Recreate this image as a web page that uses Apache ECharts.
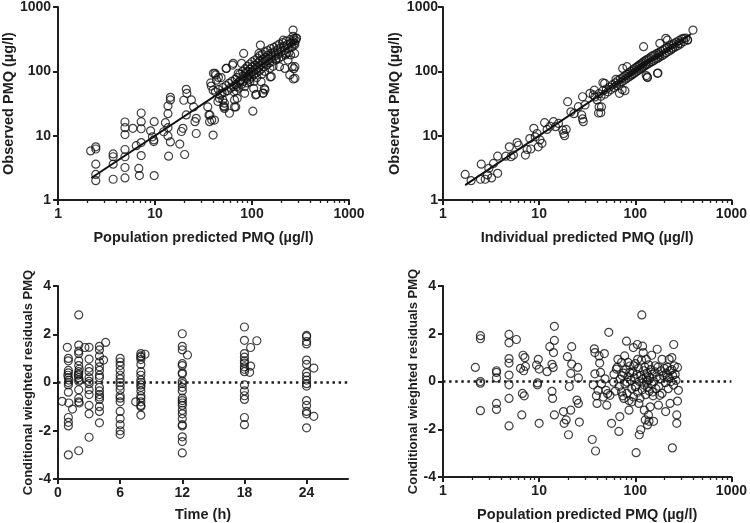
<!DOCTYPE html>
<html>
<head>
<meta charset="utf-8">
<script src="https://cdn.jsdelivr.net/npm/echarts@6/dist/echarts.min.js"></script>
<style>
html,body{margin:0;padding:0;background:#fff;}
#chart{width:750px;height:523px;}
</style>
</head>
<body>
<div id="chart"></div>
<script>
// ---------- Panel A: observed vs population predicted ----------
var popPredObs = [
[2.17,5.8],[2.45,6.7],[2.45,6.2],[2.45,3.6],[2.45,2.5],[2.45,2.0],[3.7,5.2],[3.7,4.7],[3.7,3.6],[3.7,2.1],
[4.9,16.3],[4.9,13.3],[4.9,10.4],[4.9,6.1],[4.9,4.7],[4.9,3.2],[4.9,2.2],[5.9,13],[6.4,7],[6.8,3.1],[6.9,2.4],
[7.2,7.8],[7.2,22.5],[7.2,16.5],[7.2,12.8],[7.2,4.9],[9,11.9],[9.4,9.6],[9.8,16.5],[9.7,8.6],[9.7,8.1],[9.8,2.4],
[12.3,11.5],[12.8,15.9],[13.6,29],[13.6,22],[13.6,13.3],[13.6,9.9],[13.8,4.8],[14.4,35.9],[14.4,39.5],[14.4,8],
[18,7.4],[18.7,11.6],[19.4,13],[19.8,35.5],[20.2,5.1],[21,52.5],[21.3,45.5],[21,21],[23.7,35.9],[25,28],[25.8,16.5],
[26.6,18.6],[26.6,10.8],[35,28],[36,21],[36.5,16.5],[37.5,66],[38,59],[39.7,51],[39.7,10.2],[41,17.5],[41.5,93],
[43,73],[44.5,34],[46,38],[48,80],[49,45.5],[50,36],[51,29],[52,26.5],[54.5,111],[58.5,22.3],[63,125],[66,28],[66,36],
[69,49.5],[70,58],[72,93],[75,69],[78,133],[82,190],[84,45.5],[87,98],[90,82],[95,69],[102,24],[104,54],[109,43],
[118,190],[122,256],[124,69],[129,45.5],[134,54],[154,82],[178,159],[192,118],[210,305],[225,190],[235,150],[245,88],
[250,180],[260,118],[265,438],[265,350],[267,76],[270,110],[273,272],[275,190],[285,326],
[38.4,17.5],[36.8,21],[54,111],[64,133],[42.3,88],[45,80],[40,93],[70.4,38],[68,28],[51.5,28],[52,32],[111,44],[131,46],[136,51.5],[158,83],[218,111],[277,118],[277,78],
[42,48],[45,52],[47,43],[50,56],[52,47],[54,60],[56,50],[58,65],[60,55],[62,70],[64,58],[65,48],[67,75],[68,62],[70,80],
[72,66],[73,55],[75,90],[76,72],[78,63],[80,100],[81,85],[82,70],[84,58],[85,110],[86,92],[88,78],[89,66],[90,120],
[91,100],[92,88],[94,75],[95,130],[96,108],[98,95],[99,82],[100,140],[101,118],[103,100],[104,88],[105,70],[107,150],
[108,125],[110,108],[111,95],[112,80],[114,160],[115,135],[117,115],[118,100],[120,175],[121,145],[123,125],[124,108],
[126,90],[128,185],[130,155],[131,135],[133,118],[135,100],[137,200],[139,165],[140,145],[142,125],[145,210],[147,178],
[149,155],[151,135],[153,112],[156,225],[158,190],[160,165],[162,142],[165,120],[168,235],[170,200],[173,175],[176,150],
[180,250],[183,215],[186,185],[189,160],[192,265],[195,230],[199,200],[203,170],[207,280],[211,245],[215,210],[220,180],
[225,295],[230,260],[235,225],[240,195],[246,310],[252,275],[258,240],[264,290],[270,320],[276,260],[282,300],[288,330]
];
var lineA = [[2.2,2.2],[290,290]];

// ---------- Panel B: observed vs individual predicted ----------
var indPredObs = [
[1.7,2.5],[1.96,2.0],[2.45,2.1],[2.5,3.6],[2.75,2.1],[2.9,2.45],[3.0,3.1],[3.2,2.2],[3.35,3.7],[3.7,2.6],[3.7,4.8],
[4.5,4.8],[4.9,6.7],[5.1,4.7],[5.4,5],[5.9,7.8],[6.1,7.1],[7.2,5],[7.5,6.1],[8,9],[8.2,6.2],[8.8,13],[9.1,9.6],
[9.5,10.8],[9.8,6.7],[10.2,8.6],[10.7,7.6],[11.4,15.9],[12.1,12.5],[13,14],[14.1,16.5],[14.8,13.8],[15.9,15.5],
[17.6,12.2],[18,10.8],[18.4,10],[19.1,12.5],[19.8,33.7],[21.4,23.5],[23,22],[25.6,28.2],[27.7,21],[28.3,18.2],
[28.8,16.5],[28.3,40.3],[30,30],[33.8,45.5],[36.6,43],[37.5,51],[44.5,28],[43.8,22.7],[46,66.5],[48,65],[63,75],
[68.5,45.5],[73,52],[74,111],[78,50],[82,118],[122,242],[130,86],[134,80],[170,93],[176,180],[180,272],[208,326],
[216,305],[243,228],[285,272],[320,326],[350,305],[398,438],[41.5,22.5],[42,28],[172,94],[133,82],
[38,40],[40,36],[42,45],[44,41],[46,50],[48,44],[50,53],[52,48],[54,57],[56,52],[58,62],[60,56],[62,66],[64,60],
[66,72],[68,63],[70,76],[72,68],[74,80],[76,72],[78,85],[80,76],[82,90],[84,80],[86,95],[88,84],[90,100],[92,88],
[94,105],[96,92],[98,110],[100,96],[102,115],[104,100],[106,120],[108,104],[110,125],[112,108],[114,130],[116,112],
[118,135],[120,116],[122,140],[124,120],[126,145],[128,124],[130,150],[132,128],[135,155],[138,132],[141,160],
[144,138],[147,170],[150,142],[153,175],[156,148],[160,180],[164,155],[168,190],[172,160],[176,195],[180,168],
[185,205],[190,175],[195,215],[200,185],[205,225],[210,195],[216,235],[222,205],[228,250],[234,215],[240,260],
[246,228],[252,270],[260,240],[268,285],[276,250],[285,300],[295,265],[305,320],[320,290],[335,330],[350,310]
];
var lineB = [[1.7,1.7],[380,380]];

// ---------- Panel C: CWRES vs time ----------
var timeCwres = [
[0.4,-0.78],
[0.9,1.46],[1,1.0],[1,0.9],[1,0.5],[1,0.4],[0.95,0.3],[1,0.2],[1.05,0.1],[1,0],[1,-0.1],[1,-0.4],[1.05,-0.85],
[1,-1.45],[1,-1.65],[1,-1.8],[1,-3.0],[1.4,-1.1],
[2,2.8],[2,1.55],[2,1.3],[2,1.2],[2,0.9],[2,0.7],[2.05,0.55],[2,0.45],[2,0.35],[1.95,0.3],[2,0.2],[2.05,0.1],
[2,0.05],[2,-0.3],[2,-0.65],[2,-0.8],[2.05,-0.85],[2,-2.83],[2.6,1.45],
[3,1.46],[3,0.97],[3,0.6],[3,0.45],[3,0.2],[3,0.05],[3,-0.05],[3,-0.3],[3,-0.5],[3,-0.95],[3,-1.3],[3,-2.27],
[4,1.5],[4,1.35],[4,1.1],[4,0.85],[4,0.65],[4,0.5],[4,0.3],[4,0.2],[4,-0.2],[4,-0.35],[4,-0.5],[4,-0.6],[4,-0.7],
[4,-1.0],[4,-1.2],[4,-1.67],[4.4,0.93],[4.6,1.66],
[6,1.0],[6,0.85],[6,0.7],[6,0.5],[6,0.3],[6,0.15],[6,0],[6,-0.15],[6,-0.3],[6,-0.55],[6,-0.65],[6,-0.8],[6,-1.2],
[6,-1.5],[6,-1.75],[6,-2.0],[6,-2.15],[7.5,-0.8],
[8,1.2],[8,1.1],[8,1.05],[8,0.95],[8,0.75],[8,0.45],[8,0.3],[8,0.1],[8,0],[8,-0.1],[8,-0.2],[8,-0.35],[8,-0.55],
[8,-0.65],[8,-0.8],[8,-0.95],[8,-1.0],[8,-1.35],[8.4,1.17],
[12,2.02],[12,1.5],[12,1.35],[12,0.78],[12,0.7],[12,0.4],[12,0.35],[12,0.05],[12,-0.05],[12,-0.2],[12,-0.35],
[12,-0.65],[12,-0.75],[12,-0.85],[12,-0.95],[12,-1.15],[12,-1.3],[12,-1.5],[12,-1.75],[12,-1.8],[12,-2.25],
[12,-2.45],[12,-2.92],[12.5,1.14],
[18,2.3],[18,1.75],[18,1.2],[18,1.05],[18,0.9],[18,0.8],[18,0.65],[18,0.55],[18,0.45],[18,-0.1],[18,-0.35],
[18,-0.55],[18,-0.7],[18,-1.45],[18,-1.75],[18.6,1.45],[18.6,0.68],[18.5,0.42],[19.2,1.73],
[24,1.95],[24,1.9],[24,1.7],[24,1.6],[24,0.93],[24,0.75],[24,0.4],[24,0.25],[24,0.1],[24,-0.05],[24,-0.15],
[24,-0.75],[24,-0.95],[24,-1.2],[24,-1.3],[24,-1.88],[24.7,0.6],[24.7,-1.4]
];

// ---------- Panel D: CWRES vs population predicted ----------
var popPredCwres = [
[2.17,0.59],[2.45,1.92],[2.45,1.79],[2.45,0],[2.45,-0.07],[2.45,-1.22],[3.6,0.45],[3.6,0.38],[3.6,0.15],[3.6,-0.92],
[3.6,-1.17],[4.86,1.97],[4.86,1.62],[4.86,0.96],[4.86,0.77],[4.86,0.27],[4.86,-0.14],[4.86,-0.71],[4.86,-1.86],
[5.8,1.76],[6.4,0.55],[6.6,-1.4],[6.7,-0.5],[7,-0.6],[6.8,1.1],[7.1,1.0],[6.9,0.45],[7.2,0.63],[9.4,0.69],[9.8,0.93],
[10,0.52],[9.6,-0.06],[9.6,-0.14],[10,-1.75],[12.1,0.41],[12.9,1.46],[13.6,0.72],[14,0.59],[13.6,-0.41],[13.8,-0.71],
[14.1,1.21],[14.4,2.31],[14.4,1.72],[14.4,-1.4],[17.9,-1.26],[18.2,-1.75],[19.1,-1.61],[19.7,1.04],[20.2,-2.23],
[20.6,-0.21],[21.3,0.34],[21.3,-1.2],[21.8,1.46],[21.8,0.73],[24.7,-0.78],[25.2,0.59],[25.6,-0.92],[25.6,0.15],
[26.2,-1.7],[35.7,-2.43],[36.5,-0.14],[37.5,1.37],[38,1.21],[38,0.32],[38.6,-2.91],[39.4,-0.6],[40,-0.92],[41,-0.37],
[42,1.07],[42.6,0.77],[43.5,0.38],[44.5,-0.1],[46.5,-0.65],[47.7,1.17],[48.5,0.11],[49.6,-0.37],[50.5,-0.99],
[51.5,-0.51],[53,2.06],[54.5,-0.58],[56.6,-1.75],[59.5,-0.03],[63.5,0.52],[66,0.93],[67.5,-2.09],[69,-1.47],
[72,-0.44],[73,0.25],[76,-0.71],[77.5,1.07],[81,1.69],[82,-0.03],[84,0.8],[86,-1.2],[87.5,0.38],[92,-0.85],
[95.5,1.42],[96.5,0.66],[100,-0.23],[102,-2.98],[105,1.55],[106,0.93],[109,-0.92],[110,-2.23],[114,-2.02],
[117,2.79],[119,1.48],[121,1.21],[124,-1.2],[127,-1.61],[130,0.93],[131,-0.03],[134,-1.82],[137,-1.4],[139,-1.67],
[143,-1.06],[148,1.1],[151,-0.44],[155,-1.67],[161,0.66],[169,1.35],[174,-0.99],[180,-0.58],[190,0.93],[207,-1.26],
[215,0.18],[225,0.93],[230,-0.92],[240,1.0],[243,-2.78],[251,1.55],[270,-1.75],[270,-1.4],[275,-0.82],[275,0.59],
[281,-0.37],
[60,0.3],[62,-0.4],[65,0.6],[68,-0.2],[70,0.1],[72,0.8],[74,-0.6],[76,0.35],[78,-0.1],[80,0.5],[82,-0.5],[84,0.2],
[86,-0.8],[88,0.65],[90,0.05],[92,-0.3],[94,0.4],[96,-0.65],[98,0.15],[100,0.75],[102,-0.2],[104,0.3],[106,-0.45],
[108,0.55],[110,0.0],[112,-0.7],[114,0.25],[116,0.9],[118,-0.35],[120,0.1],[122,0.45],[124,-0.15],[126,0.6],
[128,-0.55],[130,0.2],[132,0.35],[134,-0.25],[136,0.05],[138,0.7],[140,-0.4],[142,0.15],[145,0.5],[148,-0.1],
[150,0.3],[153,-0.6],[156,0.0],[160,0.4],[164,-0.3],[168,0.2],[172,0.6],[176,-0.2],[180,0.1],[185,0.45],[190,-0.5],
[195,0.25],[200,0.55],[205,-0.05],[210,0.35],[215,0.6],[220,-0.3],[225,0.15],[230,0.45],[235,0.0],[240,0.5],
[245,0.25],[250,-0.15],[255,0.65],[260,0.3],[265,0.05]
];

// ---------- Ticks ----------
var timeTicks = [0, 6, 12, 18, 24];
var cwresTicks = [-4, -2, 0, 2, 4];

var FONT = '"Liberation Sans", Arial, Helvetica, sans-serif';
var INK = '#1e1e1e';

var chart = echarts.init(document.getElementById('chart'), null, {renderer: 'canvas'});

function mainAxisBase(extra) {
  var a = {
    axisLine: {show: true, onZero: false, lineStyle: {color: INK, width: 2}},
    axisTick: {show: true, inside: false, length: 5, lineStyle: {color: INK, width: 2}},
    axisLabel: {color: INK, fontFamily: FONT, fontWeight: 'bold', fontSize: 14, margin: 7},
    splitLine: {show: false},
    minorTick: {show: false},
    minorSplitLine: {show: false},
    nameTextStyle: {color: INK, fontFamily: FONT, fontWeight: 'bold', fontSize: 14.5},
    nameLocation: 'middle'
  };
  for (var k in extra) a[k] = extra[k];
  return a;
}
function plainNum(v) { return String(Math.round(v)); }
function logX(grid, name) {
  var a = mainAxisBase({type: 'log', logBase: 10, min: 1, max: 1000, gridIndex: grid, position: 'bottom',
    name: name, nameGap: 30});
  a.axisLabel.formatter = plainNum;
  a.minorTick = {show: true, splitNumber: 9, length: 3, lineStyle: {color: INK, width: 1.3}};
  return a;
}
function logY(grid, name, gap, margin) {
  var a = mainAxisBase({type: 'log', logBase: 10, min: 1, max: 1000, gridIndex: grid,
    name: name, nameGap: gap});
  a.axisLabel.formatter = plainNum;
  a.axisLabel.margin = margin;
  return a;
}
function resY(grid, gap) {
  var a = mainAxisBase({type: 'value', min: -4, max: 4, interval: 2, gridIndex: grid,
    name: 'Conditional wieghted residuals PMQ', nameGap: gap});
  a.nameTextStyle = {color: INK, fontFamily: FONT, fontWeight: 'bold', fontSize: 13};
  a.axisLabel.customValues = cwresTicks;
  a.axisTick.customValues = cwresTicks;
  return a;
}

var xTime = mainAxisBase({type: 'value', min: 0, max: 28, gridIndex: 2, name: 'Time (h)', nameGap: 28});
xTime.axisTick.customValues = timeTicks;
xTime.axisLabel.customValues = timeTicks;

var scatterStyle = {color: 'rgba(0,0,0,0)', borderColor: '#111', borderWidth: 1.2};
function scat(data, xi, yi, extra) {
  var s = {type: 'scatter', data: data, xAxisIndex: xi, yAxisIndex: yi, symbol: 'circle', symbolSize: 8,
    itemStyle: scatterStyle, emphasis: {disabled: true}, silent: true, z: 3};
  for (var k in extra) s[k] = extra[k];
  return s;
}
var zeroLine = {silent: true, symbol: ['none', 'none'], label: {show: false},
  lineStyle: {color: INK, width: 2.5, type: [2.5, 3.6]}, data: [{yAxis: 0}]};

chart.setOption({
  animation: false,
  backgroundColor: '#fff',
  grid: [
    {left: 58, top: 7, width: 291, height: 193},
    {left: 443, top: 7, width: 291, height: 193},
    {left: 58, top: 286, width: 290, height: 194},
    {left: 443, top: 286, width: 291, height: 194}
  ],
  xAxis: [
    logX(0, 'Population predicted PMQ (\u00b5g/l)'),
    logX(1, 'Individual predicted PMQ (\u00b5g/l)'),
    xTime,
    logX(3, 'Population predicted PMQ (\u00b5g/l)')
  ],
  yAxis: [
    logY(0, 'Observed PMQ (\u00b5g/l)', 40, 7),
    logY(1, 'Observed PMQ (\u00b5g/l)', 36, 5),
    resY(2, 20),
    resY(3, 20)
  ],
  series: [
    scat(popPredObs, 0, 0),
    {type: 'line', data: lineA, xAxisIndex: 0, yAxisIndex: 0, symbol: 'none', silent: true,
      lineStyle: {color: '#111', width: 2}, z: 4},
    scat(indPredObs, 1, 1),
    {type: 'line', data: lineB, xAxisIndex: 1, yAxisIndex: 1, symbol: 'none', silent: true,
      lineStyle: {color: '#111', width: 2}, z: 4},
    scat(timeCwres, 2, 2, {markLine: zeroLine}),
    scat(popPredCwres, 3, 3, {markLine: zeroLine})
  ]
});
</script>
</body>
</html>
